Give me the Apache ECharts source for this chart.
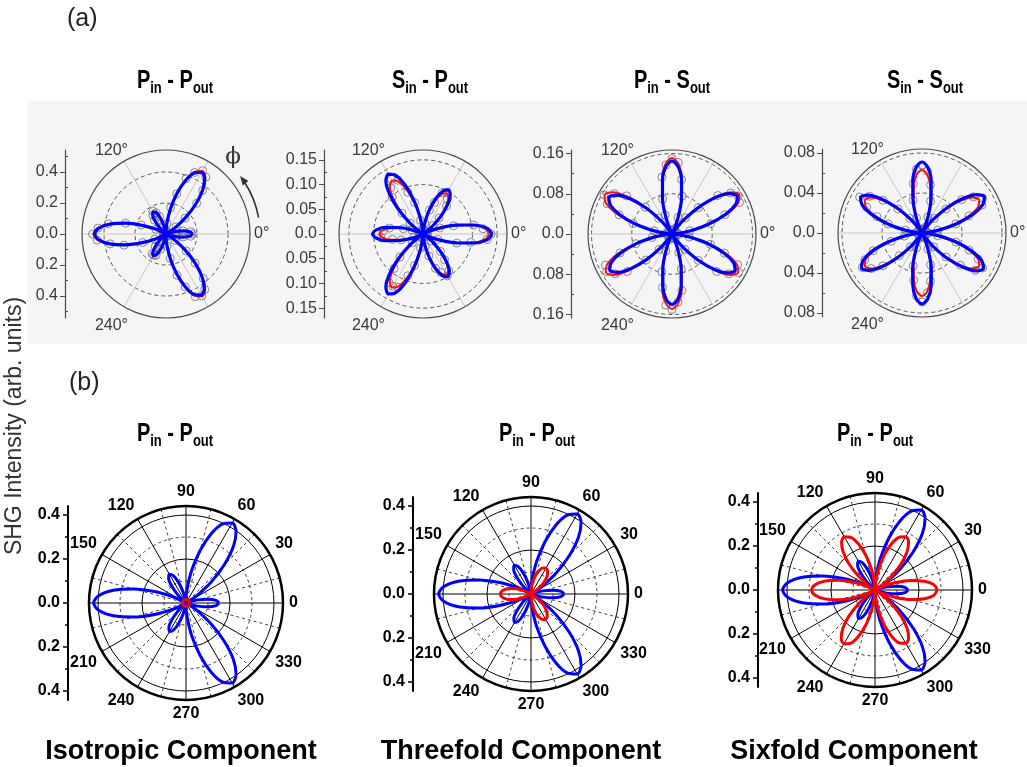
<!DOCTYPE html>
<html><head><meta charset="utf-8">
<script src="https://cdn.jsdelivr.net/npm/echarts@6/dist/echarts.min.js"></script>
<style>html,body{margin:0;padding:0;background:#fff}#c{width:1027px;height:767px}</style>
</head><body><div id="c"></div>
<script>
// ---------- data ----------
const ANG = [0,5,10,15,20,25,30,35,40,45,50,55,60,65,70,75,80,85,90,95,100,105,110,115,
  120,125,130,135,140,145,150,155,160,165,170,175,180,185,190,195,200,205,210,215,220,225,230,235,
  240,245,250,255,260,265,270,275,280,285,290,295,300,305,310,315,320,325,330,335,340,345,350,355];

const A1_BLUE = [.170,.155,.115,.064,.020,.000,.018,.075,.164,.269,.366,.435,
  .460,.435,.366,.269,.164,.075,.018,.000,.020,.064,.115,.155,
  .164,.150,.111,.062,.019,.000,.018,.075,.164,.269,.366,.435,
  .460,.435,.366,.269,.164,.075,.018,.000,.019,.062,.111,.149,
  .160,.147,.109,.061,.019,.000,.018,.074,.162,.266,.362,.431,
  .456,.431,.362,.266,.162,.074,.018,.000,.020,.064,.115,.155];
const A1_RED = [.172,.157,.116,.064,.020,.000,.018,.076,.167,.274,.373,.443,
  .469,.443,.373,.274,.167,.076,.018,.000,.020,.064,.116,.157,
  .166,.152,.112,.062,.019,.000,.018,.076,.167,.274,.373,.443,
  .469,.443,.373,.274,.167,.076,.018,.000,.019,.062,.112,.151,
  .162,.149,.110,.061,.019,.000,.018,.075,.165,.271,.369,.440,
  .465,.440,.369,.271,.165,.075,.018,.000,.020,.064,.116,.157];
const A1_DATA = [.168,.160,.112,.068,.024,.004,.022,.080,.160,.280,.368,.448,
  .472,.438,.380,.268,.172,.070,.015,.005,.024,.060,.120,.150,
  .170,.148,.116,.058,.022,.003,.021,.072,.170,.270,.378,.440,
  .474,.446,.366,.280,.160,.080,.016,.004,.022,.066,.108,.156,
  .158,.152,.106,.064,.017,.005,.020,.078,.160,.276,.364,.446,
  .462,.436,.374,.266,.170,.072,.020,.004,.018,.068,.112,.160];

const A2_BLUE = [.140,.131,.105,.070,.035,.009,.000,.007,.026,.052,.077,.096,
  .103,.096,.077,.052,.026,.007,.000,.009,.035,.070,.105,.131,
  .140,.131,.105,.070,.035,.009,.000,.007,.026,.051,.077,.095,
  .102,.095,.077,.051,.026,.007,.000,.009,.035,.070,.105,.131,
  .140,.131,.105,.070,.035,.009,.000,.007,.025,.050,.075,.093,
  .100,.093,.075,.050,.025,.007,.000,.009,.035,.070,.105,.131];
const A2_RED = [.135,.126,.101,.068,.034,.009,.000,.006,.024,.048,.071,.089,
  .095,.089,.071,.048,.024,.006,.000,.008,.031,.063,.094,.117,
  .125,.117,.094,.063,.031,.008,.000,.006,.022,.044,.066,.082,
  .088,.082,.066,.044,.022,.006,.000,.008,.031,.063,.094,.117,
  .125,.117,.094,.063,.031,.008,.000,.006,.024,.048,.071,.089,
  .095,.089,.071,.048,.024,.006,.000,.009,.034,.068,.101,.126];
const A2_DATA = [.138,.122,.104,.064,.036,.011,.003,.008,.027,.046,.074,.086,
  .097,.092,.068,.050,.022,.008,.002,.010,.028,.066,.090,.120,
  .128,.114,.097,.060,.034,.006,.003,.008,.024,.041,.069,.080,
  .091,.085,.063,.046,.020,.008,.002,.010,.028,.066,.091,.120,
  .122,.119,.090,.066,.029,.009,.002,.007,.026,.046,.074,.086,
  .098,.091,.068,.050,.022,.007,.002,.010,.032,.071,.098,.130];

const A3_BLUE = [.000,.010,.038,.075,.113,.140,.150,.140,.113,.075,.038,.010,
  .000,.010,.036,.073,.109,.135,.145,.135,.109,.073,.036,.010,
  .000,.010,.036,.073,.109,.135,.145,.135,.109,.073,.036,.010,
  .000,.010,.036,.072,.107,.133,.143,.133,.107,.072,.036,.010,
  .000,.009,.035,.070,.105,.131,.140,.131,.105,.070,.035,.009,
  .000,.010,.036,.073,.109,.135,.145,.135,.109,.073,.036,.010];
const A3_RED = [.000,.010,.039,.078,.116,.145,.155,.145,.116,.078,.039,.010,
  .000,.010,.038,.076,.113,.141,.151,.141,.113,.076,.038,.010,
  .000,.010,.039,.078,.116,.145,.155,.145,.116,.078,.039,.010,
  .000,.010,.038,.076,.114,.142,.152,.142,.114,.076,.038,.010,
  .000,.010,.037,.075,.112,.139,.149,.139,.112,.075,.037,.010,
  .000,.010,.038,.076,.114,.142,.152,.142,.114,.076,.038,.010];
const A3_DATA = [.003,.012,.036,.080,.112,.148,.152,.142,.119,.074,.042,.011,
  .002,.012,.035,.078,.110,.143,.150,.138,.115,.072,.040,.009,
  .002,.011,.041,.075,.118,.140,.156,.142,.112,.080,.036,.012,
  .003,.010,.040,.074,.110,.146,.150,.138,.116,.073,.040,.011,
  .002,.012,.036,.078,.108,.142,.150,.136,.114,.072,.039,.010,
  .003,.011,.040,.074,.116,.138,.153,.144,.111,.079,.035,.012];

const A4_BLUE = [.000,.005,.018,.036,.054,.067,.072,.067,.054,.036,.018,.005,
  .000,.005,.018,.035,.053,.066,.071,.066,.053,.035,.018,.005,
  .000,.005,.018,.036,.053,.066,.071,.066,.053,.036,.018,.005,
  .000,.005,.018,.035,.053,.065,.070,.065,.053,.035,.018,.005,
  .000,.005,.018,.036,.053,.066,.071,.066,.053,.036,.018,.005,
  .000,.005,.018,.036,.053,.066,.071,.066,.053,.036,.018,.005];
const A4_RED = [.000,.004,.017,.033,.050,.062,.066,.062,.050,.033,.017,.004,
  .000,.004,.016,.032,.047,.059,.063,.059,.047,.032,.016,.004,
  .000,.004,.017,.033,.050,.062,.066,.062,.050,.033,.017,.004,
  .000,.004,.017,.033,.050,.062,.066,.062,.050,.033,.017,.004,
  .000,.004,.016,.032,.047,.059,.063,.059,.047,.032,.016,.004,
  .000,.004,.017,.033,.050,.062,.066,.062,.050,.033,.017,.004];
const A4_DATA = [.002,.006,.016,.035,.050,.066,.070,.063,.052,.034,.019,.005,
  .001,.006,.017,.033,.049,.062,.068,.064,.050,.034,.016,.004,
  .002,.005,.019,.034,.051,.064,.072,.061,.048,.035,.017,.006,
  .001,.004,.018,.032,.052,.063,.069,.062,.051,.032,.018,.005,
  .002,.006,.016,.034,.048,.063,.069,.060,.049,.033,.017,.005,
  .001,.005,.018,.034,.050,.065,.070,.062,.050,.035,.016,.006];

const B_BLUE = [.150,.137,.101,.055,.017,.000,.017,.070,.152,.246,.335,.397,
  .420,.397,.335,.246,.152,.070,.017,.000,.017,.055,.101,.137,
  .151,.138,.101,.055,.017,.000,.017,.070,.152,.246,.335,.397,
  .420,.397,.335,.246,.152,.070,.017,.000,.017,.055,.100,.136,
  .149,.136,.100,.055,.017,.000,.017,.070,.152,.246,.335,.397,
  .420,.397,.335,.246,.152,.070,.017,.000,.017,.055,.101,.137];
const B1_RED = [.016,.016,.016,.016,.016,.016,.016,.016,.016,.016,.016,.016,
  .016,.016,.016,.016,.016,.016,.016,.016,.016,.016,.016,.016,
  .016,.016,.016,.016,.016,.016,.016,.016,.016,.016,.016,.016,
  .016,.016,.016,.016,.016,.016,.016,.016,.016,.016,.016,.016,
  .016,.016,.016,.016,.016,.016,.016,.016,.016,.016,.016,.016,
  .016,.016,.016,.016,.016,.016,.016,.016,.016,.016,.016,.016];
const B2_RED = [0,0,0,0,0,0,0,.035,.068,.095,.117,.130,
  .135,.130,.117,.095,.068,.035,0,0,0,0,0,0,
  0,0,0,0,0,0,0,.036,.070,.098,.120,.134,
  .139,.134,.120,.098,.070,.036,0,0,0,0,0,0,
  0,0,0,0,0,0,0,.034,.066,.093,.114,.128,
  .132,.128,.114,.093,.066,.034,0,0,0,0,0,0];
const B3_RED = [.283,.269,.228,.168,.100,.037,.000,.037,.099,.167,.226,.266,
  .280,.266,.226,.167,.099,.037,.000,.037,.099,.166,.225,.265,
  .279,.265,.225,.166,.099,.037,.000,.038,.102,.171,.232,.273,
  .288,.273,.232,.171,.102,.038,.000,.037,.100,.168,.227,.268,
  .282,.268,.227,.168,.100,.037,.000,.037,.099,.167,.226,.266,
  .280,.266,.226,.167,.099,.037,.000,.037,.100,.168,.228,.269];

// tick values / labels
const A1_TICKS = [-0.4,-0.2,0,0.2,0.4], A1_MINOR = [-0.5,-0.3,-0.1,0.1,0.3,0.5], A1_RINGS = [0.2,0.4];
const A2_TICKS = [-0.15,-0.1,-0.05,0,0.05,0.1,0.15], A2_MINOR = [-0.125,-0.075,-0.025,0.025,0.075,0.125], A2_RINGS = [0.1,0.15];
const A3_TICKS = [-0.16,-0.08,0,0.08,0.16], A3_MINOR = [-0.12,-0.04,0.04,0.12], A3_RINGS = [0.08,0.16];
const A4_TICKS = [-0.08,-0.04,0,0.04,0.08], A4_MINOR = [-0.06,-0.02,0.02,0.06], A4_RINGS = [0.04,0.08];
const B_TICKS = [-0.4,-0.2,0,0.2,0.4], B_MINOR = [-0.3,-0.1,0.1,0.3];
const B_RINGS_SOLID = [0.2,0.4], B_RINGS_DASHED = [0.1,0.3];
const A_ANGLE_LABELS = [0,120,240];
const B_ANGLE_LABELS = [0,30,60,90,120,150,210,240,270,300,330];
const B_DASH_ANG = [15,45,75,105,135,165,195,225,255,285,315,345];
const TITLES_A = [['P','in','P','out'],['S','in','P','out'],['P','in','S','out'],['S','in','S','out']];
const TITLES_B = [['P','in','P','out'],['P','in','P','out'],['P','in','P','out']];
const BOTTOM = ['Isotropic Component','Threefold Component','Sixfold Component'];

// ---------- layout ----------
const FONT = "'Liberation Sans', Arial, Helvetica, sans-serif";
const RA = 84, RB = 97;
const panelsA = [
  {cx:166, cy:234, ax:65,  max:0.542, rings:A1_RINGS, ticks:A1_TICKS, minor:A1_MINOR, dec:1, blue:A1_BLUE, red:A1_RED, pts:A1_DATA, tx:175},
  {cx:423, cy:234, ax:324, max:0.170, rings:A2_RINGS, ticks:A2_TICKS, minor:A2_MINOR, dec:2, blue:A2_BLUE, red:A2_RED, pts:A2_DATA, tx:430},
  {cx:672, cy:234, ax:571, max:0.167, rings:A3_RINGS, ticks:A3_TICKS, minor:A3_MINOR, dec:2, blue:A3_BLUE, red:A3_RED, pts:A3_DATA, tx:672},
  {cx:922, cy:233, ax:822, max:0.084, rings:A4_RINGS, ticks:A4_TICKS, minor:A4_MINOR, dec:2, blue:A4_BLUE, red:A4_RED, pts:A4_DATA, tx:925}
];
const BMAX = 0.441;
const panelsB = [
  {cx:186, cy:603, ax:68,  red:B1_RED, tx:175, bx:181},
  {cx:531, cy:594, ax:413, red:B2_RED, tx:537, bx:521},
  {cx:875, cy:590, ax:758, red:B3_RED, tx:875, bx:854}
];

function closed(vals){ const d = vals.map((v,i)=>[v, ANG[i]]); d.push([vals[0], 360]); return d; }
function fmt(v, dec){ return Math.abs(v) < 1e-9 ? '0.0' : Math.abs(v).toFixed(dec); }
function angLabelA(v){ return v === 0 ? '{r|0°}' : (v === 120 ? '{u|120°}' : '{d|240°}'); }

const polar=[], angleAxis=[], radiusAxis=[], grid=[], xAxis=[], yAxis=[], series=[];

function leftAxis(ax, cy, R, max, ticks, minor, dec, st){
  const gi = grid.length;
  grid.push({left:ax, top:cy-R, width:20, height:2*R});
  xAxis.push({gridIndex:gi, type:'value', show:false, min:0, max:1});
  yAxis.push({gridIndex:gi, type:'value', position:'left', min:-max, max:max,
    axisLine:{show:true, lineStyle:{color:st.color, width:st.lw}},
    axisTick:{show:true, customValues:ticks, length:5, inside:false, lineStyle:{color:st.color, width:st.tw}},
    axisLabel:{show:true, customValues:ticks, formatter:v=>fmt(v,dec), color:st.text, fontSize:st.fs, fontWeight:st.fw, fontFamily:FONT, margin:st.margin},
    splitLine:{show:false}});
  yAxis.push({gridIndex:gi, type:'value', position:'left', min:-max, max:max,
    axisLine:{show:false},
    axisTick:{show:true, customValues:minor, length:3, inside:st.minorInside, lineStyle:{color:st.color, width:st.tw}},
    axisLabel:{show:false}, splitLine:{show:false}});
}

panelsA.forEach(p=>{
  const pi = polar.length;
  polar.push({center:[p.cx,p.cy], radius:RA});
  angleAxis.push({polarIndex:pi, type:'value', min:0, max:360, interval:60, startAngle:0, clockwise:false,
    axisLine:{show:true, lineStyle:{color:'#4a4a4a', width:1.2}}, axisTick:{show:false},
    splitLine:{show:true, lineStyle:{color:'#c6c6c6', width:1}},
    axisLabel:{show:true, customValues:A_ANGLE_LABELS, formatter:angLabelA, color:'#3a3a3a', fontSize:16, fontFamily:FONT, margin:-8,
      rich:{r:{padding:[0,0,0,12]}, u:{padding:[0,0,10,0]}, d:{padding:[18,0,0,0]}}}});
  radiusAxis.push({polarIndex:pi, type:'value', min:0, max:p.max, axisLine:{show:false},
    axisTick:{show:false, customValues:p.rings}, axisLabel:{show:false},
    splitLine:{show:true, lineStyle:{color:'#555', width:1, type:[4,3]}}});
  leftAxis(p.ax, p.cy, RA, p.max, p.ticks, p.minor, p.dec,
    {color:'#4a4a4a', lw:1.2, tw:1, text:'#3a3a3a', fs:16, fw:'normal', margin:7, minorInside:true});
  series.push({type:'scatter', coordinateSystem:'polar', polarIndex:pi, data:p.pts.map((v,i)=>[v,ANG[i]]),
    symbol:'circle', symbolSize:8, silent:true, z:2,
    itemStyle:{color:'rgba(255,255,255,0)', borderColor:'#6e6e6e', borderWidth:1}});
  series.push({type:'line', coordinateSystem:'polar', polarIndex:pi, data:closed(p.red), showSymbol:false, symbol:'none',
    smooth:0.3, silent:true, z:3, lineStyle:{color:'#ff1010', width:2}});
  series.push({type:'line', coordinateSystem:'polar', polarIndex:pi, data:closed(p.blue), showSymbol:false, symbol:'none',
    smooth:0.3, silent:true, z:4, lineStyle:{color:'#0000ff', width:3.2}});
});

panelsB.forEach(p=>{
  const pd = polar.length;
  polar.push({center:[p.cx,p.cy], radius:RB});
  angleAxis.push({polarIndex:pd, type:'value', min:0, max:360, startAngle:0, clockwise:false,
    axisLine:{show:false}, axisTick:{show:false, customValues:B_DASH_ANG}, axisLabel:{show:false},
    splitLine:{show:true, lineStyle:{color:'#111', width:0.8, type:[3,3]}}});
  radiusAxis.push({polarIndex:pd, type:'value', min:0, max:BMAX, axisLine:{show:false},
    axisTick:{show:false, customValues:B_RINGS_DASHED}, axisLabel:{show:false},
    splitLine:{show:true, lineStyle:{color:'#111', width:0.8, type:[3,3]}}});
  const pp = polar.length;
  polar.push({center:[p.cx,p.cy], radius:RB});
  angleAxis.push({polarIndex:pp, type:'value', min:0, max:360, interval:30, startAngle:0, clockwise:false,
    axisLine:{show:true, lineStyle:{color:'#000', width:2.5}}, axisTick:{show:false},
    splitLine:{show:true, lineStyle:{color:'#000', width:1}},
    axisLabel:{show:true, customValues:B_ANGLE_LABELS, formatter:v=>String(v), color:'#000', fontWeight:'bold', fontSize:16, fontFamily:FONT, margin:6}});
  radiusAxis.push({polarIndex:pp, type:'value', min:0, max:BMAX, axisLine:{show:false},
    axisTick:{show:false, customValues:B_RINGS_SOLID}, axisLabel:{show:false},
    splitLine:{show:true, lineStyle:{color:'#000', width:1}}});
  leftAxis(p.ax, p.cy, RB, BMAX, B_TICKS, B_MINOR, 1,
    {color:'#000', lw:2, tw:1.5, text:'#000', fs:16, fw:'bold', margin:8, minorInside:false});
  series.push({type:'line', coordinateSystem:'polar', polarIndex:pp, data:closed(B_BLUE), showSymbol:false, symbol:'none',
    smooth:0.3, silent:true, z:3, lineStyle:{color:'#0000ff', width:3}});
  series.push({type:'line', coordinateSystem:'polar', polarIndex:pp, data:closed(p.red), showSymbol:false, symbol:'none',
    smooth:0.3, silent:true, z:4, lineStyle:{color:'#ff0000', width:3}});
});

// ---------- text / decorations ----------
const rich = {
  m:{fontSize:20, fontWeight:'bold', fontFamily:FONT, fill:'#000', verticalAlign:'top', lineHeight:22},
  s:{fontSize:13, fontWeight:'bold', fontFamily:FONT, fill:'#000', verticalAlign:'bottom', lineHeight:14, padding:[12,0,0,0]}
};
function title(t, x, y){
  return {type:'text', x:x, y:y, scaleY:1.3, z:10, style:{text:`{m|${t[0]}}{s|${t[1]}}{m| - ${t[2]}}{s|${t[3]}}`, rich:rich, align:'center', verticalAlign:'top'}};
}
const g = [];
g.push({type:'rect', z:-100, shape:{x:27, y:101, width:1000, height:243}, style:{fill:'#f5f5f5'}});
g.push({type:'text', x:67, y:7, style:{text:'(a)', fill:'#222', font:'25px '+FONT}});
g.push({type:'text', x:69, y:371, style:{text:'(b)', fill:'#222', font:'25px '+FONT}});
panelsA.forEach((p,i)=>g.push(title(TITLES_A[i], p.tx, 68)));
panelsB.forEach((p,i)=>g.push(title(TITLES_B[i], p.tx, 421)));
panelsB.forEach((p,i)=>g.push({type:'text', x:p.bx, y:752, style:{text:BOTTOM[i], fill:'#000', font:'bold 27px '+FONT, align:'center', verticalAlign:'middle'}}));
g.push({type:'text', x:15, y:426, rotation:Math.PI/2, style:{text:'SHG Intensity (arb. units)', fill:'#333', font:'23px '+FONT, align:'center', verticalAlign:'middle'}});
g.push({type:'text', x:233, y:157, style:{text:'ϕ', fill:'#333', font:'23px "DejaVu Serif", serif', align:'center', verticalAlign:'middle'}});
g.push({type:'arc', shape:{cx:166, cy:234, r:94, startAngle:-10*Math.PI/180, endAngle:-33*Math.PI/180, clockwise:false}, style:{stroke:'#333', lineWidth:1.6, fill:null}});
g.push({type:'polygon', shape:{points:[[240.1,176.1],[248.4,181.0],[242.8,185.4]]}, style:{fill:'#333'}});

const chart = echarts.init(document.getElementById('c'), null, {renderer:'canvas'});
chart.setOption({
  animation:false, backgroundColor:'#fff',
  polar, angleAxis, radiusAxis, grid, xAxis, yAxis, series,
  graphic:{elements:g}
});
</script></body></html>
